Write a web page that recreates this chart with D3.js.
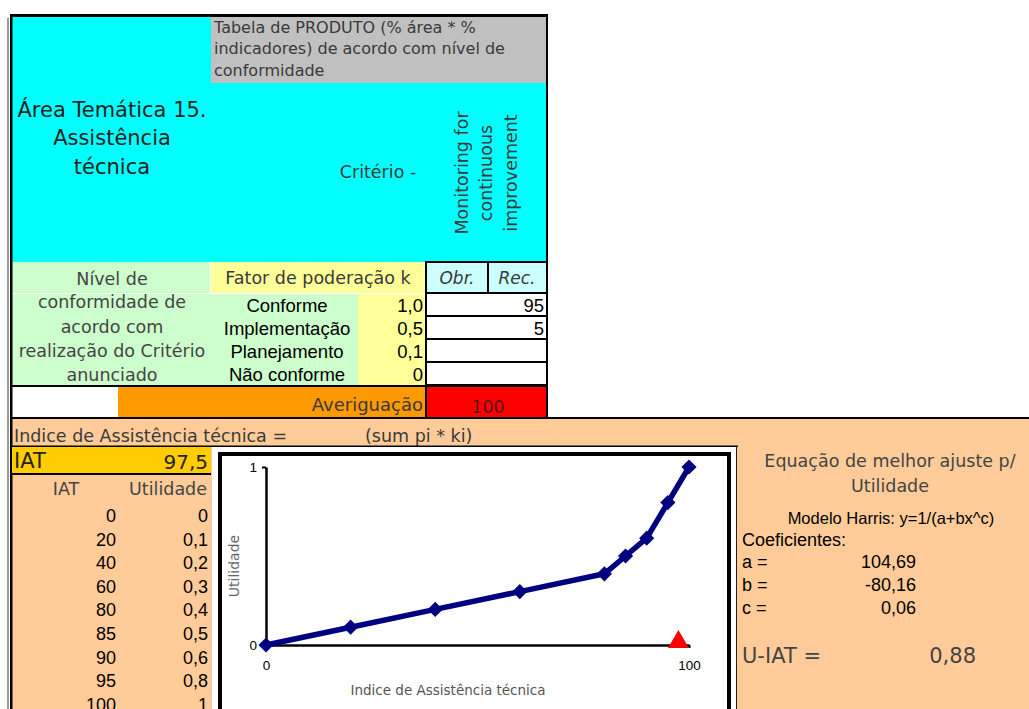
<!DOCTYPE html>
<html>
<head>
<meta charset="utf-8">
<script src="https://cdn.jsdelivr.net/npm/d3@7"></script>
<style>
  body { margin: 0; background: #fff; }
  svg { display: block; }
</style>
</head>
<body>
<svg id="sheet" width="1029" height="709"></svg>
<script>
// Conformity levels and their weighting factor k
const levels = ["Conforme", "Implementação", "Planejamento", "Não conforme"];
const weights = [1.0, 0.5, 0.1, 0];
const weightLabels = ["1,0", "0,5", "0,1", "0"];
// Share of area (%) recorded for each level (column "Rec.")
const recShares = [95, 5, null, null];

// Utility curve: IAT index vs. utility
const iatPoints = [0, 20, 40, 60, 80, 85, 90, 95, 100];
const utilityPoints = [0, 0.1, 0.2, 0.3, 0.4, 0.5, 0.6, 0.8, 1];

// Harris model coefficients and resulting utility
const coefNames = ["a =", "b =", "c ="];
const coefValues = [104.69, -80.16, 0.06];
const uIat = 0.88;

const comma = v => String(v).replace(".", ",");
const fmt2 = v => v.toFixed(2).replace(".", ",");

const total = d3.sum(recShares, d => d || 0);
const iat = d3.sum(recShares, (d, i) => (d || 0) * weights[i]) * 100 / total;

const svg = d3.select("#sheet");
const TAH = "'DejaVu Sans', sans-serif";
const ARI = "'Liberation Sans', Arial, sans-serif";

function cell(x, y, w, h, fill) {
  return svg.append("rect").attr("x", x).attr("y", y).attr("width", w).attr("height", h).attr("fill", fill);
}
function txt(x, y, s, o = {}) {
  const t = svg.append("text")
    .attr("x", x).attr("y", y)
    .attr("dominant-baseline", "central")
    .attr("text-anchor", o.anchor || "start")
    .attr("font-family", o.family || TAH)
    .attr("font-size", o.size || 17.5)
    .attr("fill", o.fill || "#3a3a3a")
    .text(s);
  if (o.italic) t.attr("font-style", "italic");
  if (o.rotate) t.attr("transform", `rotate(-90,${x},${y})`);
  return t;
}

// ---------- upper block: criterion header ----------
cell(7, 18, 2, 691, "#9a9a9a");           // soft shadow on left edge
cell(12, 17, 534, 245, "#00FFFF");
cell(211, 17, 335, 66, "#C0C0C0");

txt(214, 27, "Tabela de PRODUTO (% área * %", { size: 16 });
txt(214, 48, "indicadores) de acordo com nível de", { size: 16 });
txt(214, 70, "conformidade", { size: 16 });

txt(112, 110, "Área Temática 15.", { anchor: "middle", size: 21, fill: "#222" });
txt(112, 138, "Assistência", { anchor: "middle", size: 21, fill: "#222" });
txt(112, 167, "técnica", { anchor: "middle", size: 21, fill: "#222" });
txt(378, 172, "Critério -", { anchor: "middle", size: 17.5 });
txt(462, 173, "Monitoring for", { anchor: "middle", size: 17.5, rotate: true });
txt(486, 173, "continuous", { anchor: "middle", size: 17.5, rotate: true });
txt(511, 173, "improvement", { anchor: "middle", size: 17.5, rotate: true });

// ---------- conformity table ----------
cell(12, 262, 198, 31, "#CCFFCC");
cell(211, 262, 214, 31, "#FFFF99");
cell(12, 294, 346, 92, "#CCFFCC");
cell(358, 294, 67, 92, "#FFFF99");
cell(427, 262, 60, 31, "#CCFFFF");
cell(489, 262, 57, 31, "#CCFFFF");

txt(112, 279, "Nível de", { anchor: "middle", fill: "#444" });
txt(318, 278, "Fator de poderação k", { anchor: "middle" });
txt(457, 278, "Obr.", { anchor: "middle", size: 17, italic: true });
txt(517, 278, "Rec.", { anchor: "middle", size: 17, italic: true });

["conformidade de", "acordo com", "realização do Critério", "anunciado"].forEach((s, i) => {
  txt(112, [302, 327, 351, 375][i], s, { anchor: "middle", fill: "#444" });
});

const rowTop = [295, 318, 341, 364];
const rowH = 21;
levels.forEach((lv, i) => {
  const cy = rowTop[i] + rowH / 2;
  cell(427, rowTop[i], 119, rowH, "#fff");
  txt(287, cy, lv, { anchor: "middle", family: ARI, size: 18.5, fill: "#000" });
  txt(423, cy, weightLabels[i], { anchor: "end", family: ARI, size: 18.5, fill: "#000" });
  if (recShares[i] != null) txt(544, cy, recShares[i], { anchor: "end", family: ARI, size: 18.5, fill: "#000" });
});

// table grid lines
svg.append("line").attr("x1", 12).attr("x2", 425).attr("y1", 293.5).attr("y2", 293.5).attr("stroke", "#fff").attr("stroke-width", 1);
svg.append("line").attr("x1", 210.5).attr("x2", 210.5).attr("y1", 262).attr("y2", 293).attr("stroke", "#fff").attr("stroke-width", 1);
[262, 293, 316, 339, 362, 385].forEach(y => {
  cell(425, y - 1, 123, 2, "#000");
});
cell(425, 261, 2, 157, "#000");
cell(487, 262, 2, 31, "#000");

// Averiguação row
cell(12, 387, 106, 30, "#fff");
cell(118, 387, 307, 30, "#FF9900");
cell(427, 387, 119, 30, "#FF0000");
txt(423, 404, "Averiguação", { anchor: "end", size: 18 });
txt(488, 407, total, { anchor: "middle", size: 17.5, fill: "#5a1010" });
cell(10, 385, 538, 2, "#000");

// outer frame of upper block
cell(10, 14, 538, 3, "#000");
cell(546, 14, 2, 404, "#000");

// ---------- lower block: index and utility ----------
cell(12, 419, 1017, 290, "#FFCC99");
cell(10, 417, 1019, 2, "#000");
cell(10, 14, 2.5, 695, "#000");

txt(14, 436, "Indice de Assistência técnica =", { size: 17.5 });
txt(365, 436, "(sum pi * ki)", { size: 17.5 });
cell(12, 445.5, 726, 1.5, "#000");

cell(12, 447, 199, 26, "#FFCC00");
cell(12, 473, 199, 2, "#000");
txt(14, 461, "IAT", { size: 21, fill: "#222" });
txt(208, 462, comma(iat), { anchor: "end", size: 20, fill: "#222" });

txt(66, 489, "IAT", { anchor: "middle", fill: "#444" });
txt(207, 489, "Utilidade", { anchor: "end", fill: "#444" });
iatPoints.forEach((v, i) => {
  const cy = 516 + i * 23.6;
  txt(116, cy, v, { anchor: "end", family: ARI, size: 18, fill: "#000" });
  txt(208, cy, comma(utilityPoints[i]), { anchor: "end", family: ARI, size: 18, fill: "#000" });
});

// right-hand fitted equation panel
txt(890, 461, "Equação de melhor ajuste p/", { anchor: "middle", fill: "#444" });
txt(890, 486, "Utilidade", { anchor: "middle", fill: "#444" });
txt(891, 518, "Modelo Harris: y=1/(a+bx^c)", { anchor: "middle", family: ARI, size: 16.5, fill: "#000" });
txt(742, 540, "Coeficientes:", { family: ARI, size: 18, fill: "#000" });
coefNames.forEach((n, i) => {
  const cy = 562 + i * 23;
  txt(742, cy, n, { family: ARI, size: 18, fill: "#000" });
  txt(916, cy, fmt2(coefValues[i]), { anchor: "end", family: ARI, size: 18, fill: "#000" });
});
txt(742, 656, "U-IAT =", { size: 21, fill: "#444" });
txt(976, 656, fmt2(uIat), { anchor: "end", size: 21, fill: "#444" });

// ---------- utility chart ----------
cell(212, 447, 525, 262, "#fff");
svg.append("line").attr("x1", 736.5).attr("x2", 736.5).attr("y1", 446).attr("y2", 709).attr("stroke", "#222").attr("stroke-width", 1);
svg.append("rect").attr("x", 220).attr("y", 454).attr("width", 509).attr("height", 270)
  .attr("fill", "none").attr("stroke", "#000").attr("stroke-width", 4);

const x = d3.scaleLinear().domain([0, 100]).range([266, 689]);
const y = d3.scaleLinear().domain([0, 1]).range([645, 467]);

const yAxis = svg.append("g").attr("transform", `translate(${x(0)},0)`)
  .call(d3.axisLeft(y).tickValues([0, 1]).tickSize(4).tickSizeOuter(0).tickPadding(5).tickFormat(d3.format("d")));
const xAxis = svg.append("g").attr("transform", `translate(0,${y(0)})`)
  .call(d3.axisBottom(x).tickValues([0, 100]).tickSize(3).tickSizeOuter(0).tickPadding(12).tickFormat(d3.format("d")));
[yAxis, xAxis].forEach(g => {
  g.select(".domain").attr("stroke", "#000").attr("stroke-width", 2.5);
  g.selectAll(".tick line").attr("stroke", "#000").attr("stroke-width", 2);
  g.selectAll(".tick text").attr("font-family", ARI).attr("font-size", 13.5).attr("fill", "#000");
});
xAxis.selectAll(".tick").filter(d => d === 0).select("line").remove();
yAxis.selectAll(".tick").filter(d => d === 0).select("line").remove();

txt(234, 566, "Utilidade", { anchor: "middle", size: 14, fill: "#666", rotate: true });
txt(448, 690, "Indice de Assistência técnica", { anchor: "middle", size: 13.5, fill: "#555" });

const pts = iatPoints.map((v, i) => [v, utilityPoints[i]]);
svg.append("path").datum(pts)
  .attr("d", d3.line().x(d => x(d[0])).y(d => y(d[1])))
  .attr("fill", "none").attr("stroke", "#000080").attr("stroke-width", 5.5).attr("stroke-linejoin", "round");

svg.append("g").selectAll("path").data(pts).join("path")
  .attr("d", d3.symbol(d3.symbolSquare, 115))
  .attr("transform", d => `translate(${x(d[0])},${y(d[1])}) rotate(45)`)
  .attr("fill", "#000080");

// current index marker on the x axis
svg.append("path")
  .attr("d", d3.symbol(d3.symbolTriangle, 190))
  .attr("transform", `translate(${x(iat)},${y(0) - 3})`)
  .attr("fill", "#FF0000");
</script>
</body>
</html>
